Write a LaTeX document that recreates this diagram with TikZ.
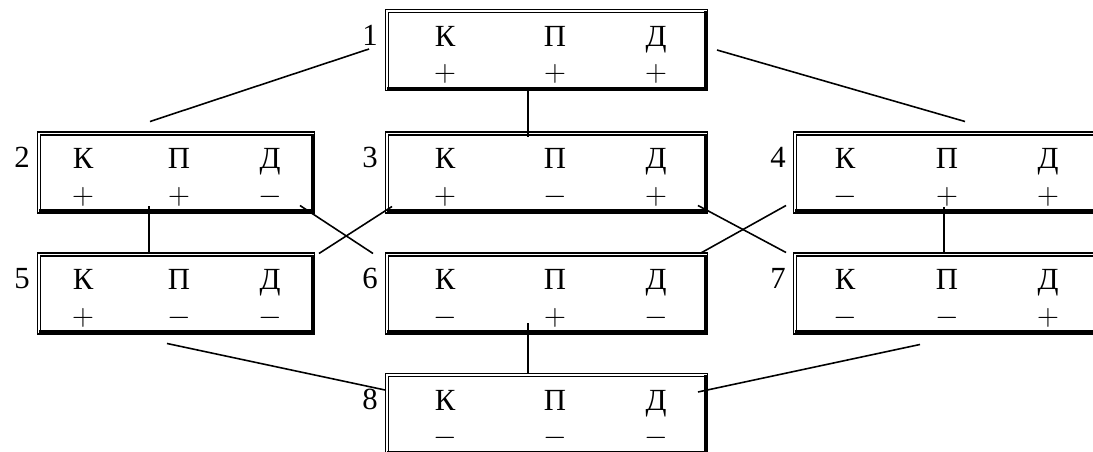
\documentclass[tikz,border=0pt]{standalone}
\usepackage{fontspec}
\setmainfont{Liberation Serif}
\usetikzlibrary{calc}

\begin{document}
\begin{tikzpicture}[
  x=0.02cm,y=-0.02cm,
  font=\fontsize{17.5pt}{20pt}\selectfont,
  frame/.style={draw,double,line width=0.026cm,double distance=0.034cm,inner sep=0pt,outer sep=0pt,minimum height=1.56cm},
  mid/.style={frame,minimum width=6.38cm},
  side/.style={frame,minimum width=5.48cm},
  wide/.style={frame,minimum width=6.12cm},
  band/.style={line width=0.08cm,line join=miter},
  letter/.style={inner sep=0pt},
  sign/.style={inner sep=0pt,font=\fontsize{16pt}{19pt}\selectfont},
  num/.style={inner sep=0pt,anchor=east},
  link/.style={line width=0.9pt}
]
\useasboundingbox (0,0) rectangle (1093,452);
\clip (0,0) rectangle (1093,452);

% states
\node[mid]  (b1) at (546.5,50)    {};
\node[side] (b2) at (176,172.5)   {};
\node[mid]  (b3) at (546.5,172.5) {};
\node[wide] (b4) at (948,172.5)   {};
\node[side] (b5) at (176,293.5)   {};
\node[mid]  (b6) at (546.5,293.5) {};
\node[wide] (b7) at (948,293.5)   {};
\node[mid]  (b8) at (546.5,414)   {};

% thick lower and right edges, letters, signs, numbers
\foreach \n/\dk/\dp/\dd/\sk/\sp/\sd in {1/58/168/269/+/+/+, 2/44/140/231/+/+/-,
    3/58/168/269/+/-/+, 4/50/152/253/-/+/+, 5/44/140/231/+/-/-,
    6/58/168/269/-/+/-, 7/50/152/253/-/-/+, 8/58/168/269/-/-/-} {
  \draw[band] (b\n.south west) -- (b\n.south east) -- (b\n.north east);
  \node[letter] (k\n) at ($(b\n.north west)+(\dk,25)$) {К};
  \node[letter] (p\n) at ($(b\n.north west)+(\dp,25)$) {П};
  \node[letter] (d\n) at ($(b\n.north west)+(\dd,25)$) {Д};
  \node[sign] (sk\n) at ($(b\n.north west)+(\dk,62)$) {$\sk$};
  \node[sign] (sp\n) at ($(b\n.north west)+(\dp,62)$) {$\sp$};
  \node[sign] (sd\n) at ($(b\n.north west)+(\dd,62)$) {$\sd$};
  \node[num] (n\n) at ($(b\n.north west)+(-9,24)$) {\n};
}

% transitions
\draw[link] ($(b1.west)+(-18,-1)$) -- ($(b2.north)+(-26,-12)$);
\draw[link] ($(b1.south)+(-18.5,-1)$) -- ($(b3.north)+(-18.5,3)$);
\draw[link] ($(b1.east)+(11,0)$) -- ($(b4.north)+(17,-12)$);
\draw[link] ($(b2.south)+(-27,-5)$) -- ($(b5.north)+(-27,-2)$);
\draw[link] ($(b2.south east)+(-13,-6)$) -- ($(b6.north west)+(-14,-1)$);
\draw[link] ($(b3.south west)+(5,-5)$) -- ($(b5.north east)+(6,-1)$);
\draw[link] ($(b3.south east)+(-8,-6)$) -- ($(b7.north west)+(-9,-2)$);
\draw[link] ($(b4.south west)+(-9,-6)$) -- ($(b6.north east)+(-6,-1)$);
\draw[link] ($(b4.south)+(-4,-4)$) -- ($(b7.north)+(-4,-2)$);
\draw[link] ($(b6.south)+(-18.5,-9)$) -- ($(b8.north)+(-18.5,-2)$);
\draw[link] ($(b5.south)+(-9,11)$) -- ($(b8.west)+(-2,-24)$);
\draw[link] ($(b7.south)+(-28,12)$) -- ($(b8.east)+(-8,-22)$);
\end{tikzpicture}
\end{document}
